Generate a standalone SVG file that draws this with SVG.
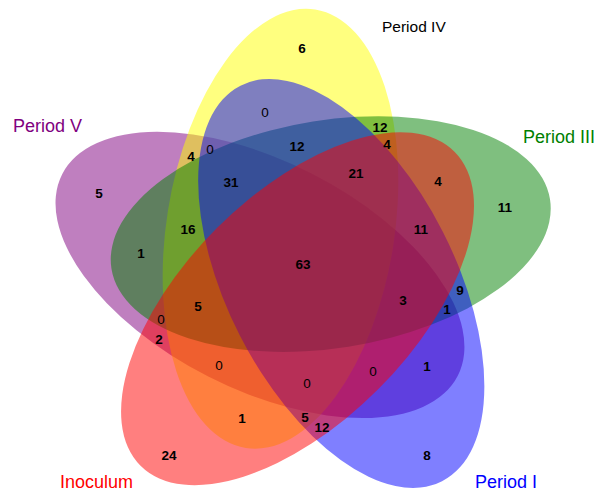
<svg xmlns="http://www.w3.org/2000/svg" width="600" height="492" viewBox="0 0 600 492">
<style>
.set{fill-opacity:0.5;stroke:none}
.lbl{font-family:"Liberation Sans",Arial,sans-serif;font-size:18px}
.n{font-family:"Liberation Sans",Arial,sans-serif;font-size:13.5px;font-weight:bold;text-anchor:middle;fill:#000}
.z{font-weight:normal}
</style>
<defs>
<ellipse id="egg" cx="280.5" cy="228.8" rx="114" ry="222" transform="rotate(9 280.5 228.8)"/>
</defs>
<rect width="600" height="492" fill="#fff"/>
<g id="period-v">
<use href="#egg" class="set" fill="#800080" transform="rotate(288 302 266)"/>
<text class="lbl" x="13" y="132" fill="#800080">Period V</text>
</g>
<g id="period-iv">
<use href="#egg" class="set" fill="#ffff00"/>
<text class="lbl" x="382" y="32" fill="#000" style="font-size:15.5px">Period IV</text>
</g>
<g id="period-iii">
<use href="#egg" class="set" fill="#008000" transform="rotate(72 302 266)"/>
<text class="lbl" x="523" y="143" fill="#008000">Period III</text>
</g>
<g id="period-i">
<use href="#egg" class="set" fill="#0000ff" transform="rotate(144 302 266)"/>
<text class="lbl" x="475" y="488" fill="#0000ff">Period I</text>
</g>
<g id="inoculum">
<use href="#egg" class="set" fill="#ff0000" transform="rotate(216 302 266)"/>
<text class="lbl" x="60" y="488" fill="#ff0000">Inoculum</text>
</g>
<g id="counts">
<text class="n" x="302" y="53">6</text>
<text class="n z" x="265" y="117">0</text>
<text class="n" x="380" y="132">12</text>
<text class="n" x="387" y="149">4</text>
<text class="n" x="191" y="161">4</text>
<text class="n z" x="210" y="154">0</text>
<text class="n" x="297" y="151">12</text>
<text class="n" x="356" y="178">21</text>
<text class="n" x="231" y="187">31</text>
<text class="n" x="438" y="186">4</text>
<text class="n" x="505" y="212">11</text>
<text class="n" x="99" y="198">5</text>
<text class="n" x="188" y="234">16</text>
<text class="n" x="421" y="234">11</text>
<text class="n" x="141" y="258">1</text>
<text class="n" x="303" y="269">63</text>
<text class="n" x="198" y="311">5</text>
<text class="n z" x="161" y="324">0</text>
<text class="n" x="159" y="344">2</text>
<text class="n" x="403" y="305">3</text>
<text class="n" x="460" y="295">9</text>
<text class="n" x="447" y="314">1</text>
<text class="n z" x="219" y="370">0</text>
<text class="n z" x="307" y="388">0</text>
<text class="n z" x="373" y="376">0</text>
<text class="n" x="427" y="371">1</text>
<text class="n" x="242" y="423">1</text>
<text class="n" x="305" y="422">5</text>
<text class="n" x="322" y="432">12</text>
<text class="n" x="169" y="460">24</text>
<text class="n" x="427" y="460">8</text>
</g>
</svg>
